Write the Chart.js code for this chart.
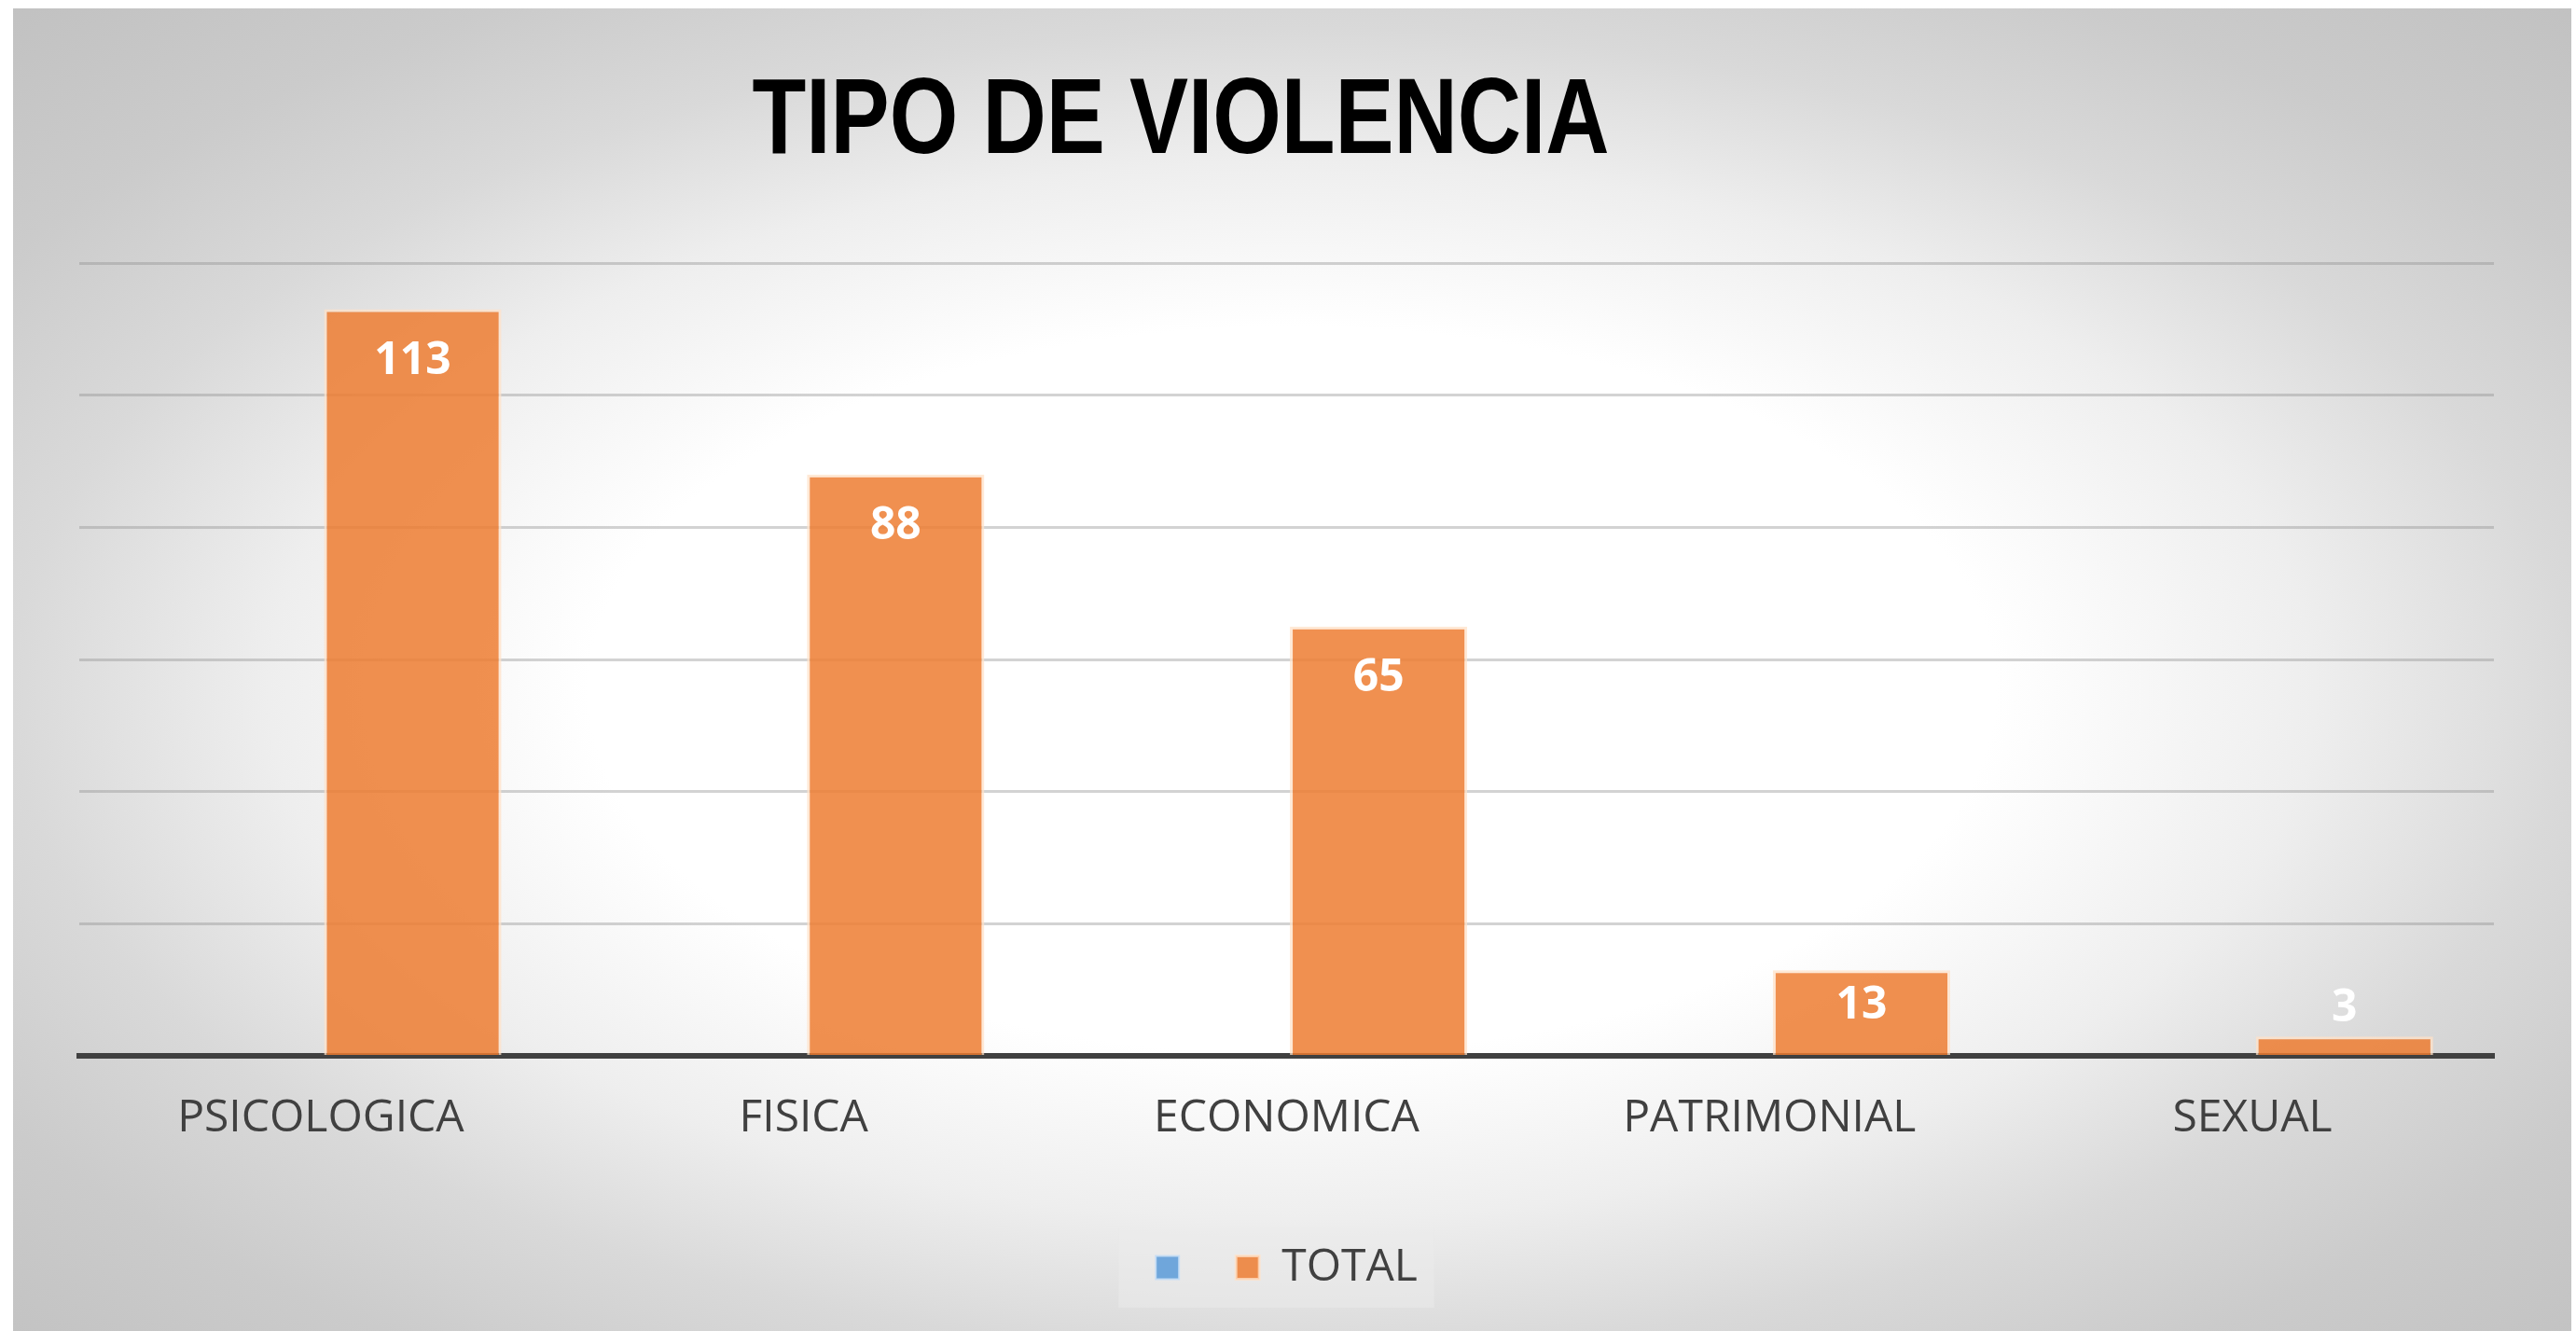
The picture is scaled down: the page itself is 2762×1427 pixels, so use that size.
<!DOCTYPE html>
<html>
<head>
<meta charset="utf-8">
<title>Tipo de violencia</title>
<script src="https://cdn.jsdelivr.net/npm/chart.js@4.4.1/dist/chart.umd.min.js"></script>
<style>
  html, body { margin: 0; padding: 0; background: #ffffff; }
  canvas { display: block; }
</style>
</head>
<body>
<canvas id="violenciaChart" width="2762" height="1427"></canvas>
<script>
// datos del grafico
const titleText = "TIPO DE VIOLENCIA";
const categories = ["PSICOLOGICA", "FISICA", "ECONOMICA", "PATRIMONIAL", "SEXUAL"];
const seriesNames = ["", "TOTAL"];
const emptySeries = [null, null, null, null, null];
const totalSeries = [113, 88, 65, 13, 3];
const yMax = 120;
const yStep = 20;

const textColor = "#404040";

// fondo degradado radial + caja clara de la leyenda
const backgroundPlugin = {
  id: "fondo",
  beforeDraw(chart) {
    const ctx = chart.ctx;
    const w = chart.width, h = chart.height;
    ctx.save();
    ctx.fillStyle = "#ffffff";
    ctx.fillRect(0, 0, w, h);
    const x0 = 14, y0 = 9, x1 = w - 5, y1 = h;
    const cx = (x0 + x1) / 2, cy = 740;
    const rx = (x1 - x0) / 2, ry = (y1 - y0) / 2;
    ctx.beginPath();
    ctx.rect(x0, y0, x1 - x0, y1 - y0);
    ctx.clip();
    ctx.translate(cx, cy);
    ctx.scale(1, ry / rx);
    const R = rx * 1.45;
    const g = ctx.createRadialGradient(0, 0, 0, 0, 0, R);
    g.addColorStop(0, "#ffffff");
    g.addColorStop(0.55 / 1.45, "#ffffff");
    g.addColorStop(0.8 / 1.45, "#eeeeee");
    g.addColorStop(1.0 / 1.45, "#d9d9d9");
    g.addColorStop(1.2 / 1.45, "#cbcbcb");
    g.addColorStop(1, "#c1c1c1");
    ctx.fillStyle = g;
    ctx.fillRect(-cx, -cy * rx / ry, w, h * rx / ry + 10);
    ctx.restore();

    const boxes = chart.legend && chart.legend.legendHitBoxes;
    if (boxes && boxes.length) {
      const left = Math.min(...boxes.map(b => b.left)) - 40;
      const right = Math.max(...boxes.map(b => b.left + b.width)) + 18;
      const mid = boxes[0].top + boxes[0].height / 2;
      ctx.save();
      ctx.fillStyle = "rgba(236,236,236,0.5)";
      ctx.fillRect(left, mid - 43, right - left, 86);
      ctx.restore();
    }
  }
};

// titulo (Arial Narrow negrita en el original; se estrecha si no hay fuente condensada)
const titlePlugin = {
  id: "titulo",
  afterDraw(chart) {
    const ctx = chart.ctx;
    ctx.save();
    ctx.font = "bold 115px 'Liberation Sans Narrow', 'Arial Narrow', 'Liberation Sans', sans-serif";
    ctx.fillStyle = "#000000";
    ctx.textAlign = "center";
    ctx.textBaseline = "alphabetic";
    const targetWidth = 919;
    const measured = ctx.measureText(titleText).width;
    const sx = measured > targetWidth * 1.03 ? targetWidth / measured : 1;
    ctx.translate(chart.width * 0.4584, 164);
    ctx.scale(sx, 1);
    ctx.fillText(titleText, 0, 0);
    ctx.restore();
  }
};

// etiquetas de datos en blanco
const dataLabelsPlugin = {
  id: "etiquetas",
  afterDatasetsDraw(chart) {
    const ctx = chart.ctx;
    const meta = chart.getDatasetMeta(1);
    ctx.save();
    ctx.font = "bold 48px 'Open Sans', sans-serif";
    ctx.fillStyle = "#ffffff";
    ctx.textAlign = "center";
    ctx.textBaseline = "middle";
    meta.data.forEach((bar, i) => {
      const v = totalSeries[i];
      if (v == null) return;
      const h = bar.base - bar.y;
      let y;
      if (h > 70) {
        y = bar.y + Math.min(56, h * 0.42);
      } else {
        y = bar.y - 30;
      }
      ctx.fillText(String(v), bar.x, y);
    });
    ctx.restore();
  }
};

const ctx = document.getElementById("violenciaChart").getContext("2d");

new Chart(ctx, {
  type: "bar",
  data: {
    labels: categories,
    datasets: [
      {
        label: seriesNames[0],
        data: emptySeries,
        backgroundColor: "#6fa6db",
        borderColor: "rgba(200,222,245,0.9)",
        borderWidth: 2,
        categoryPercentage: 0.762,
        barPercentage: 0.964
      },
      {
        label: seriesNames[1],
        data: totalSeries,
        backgroundColor: "rgba(237,125,49,0.85)",
        borderColor: "rgba(255,225,200,0.75)",
        borderWidth: 3,
        categoryPercentage: 0.762,
        barPercentage: 0.964
      }
    ]
  },
  options: {
    responsive: false,
    animation: false,
    devicePixelRatio: 1,
    layout: {
      padding: { top: 282, left: 85, right: 88, bottom: 34 }
    },
    scales: {
      x: {
        grid: { display: false, drawTicks: false },
        border: { display: true, color: "#404040", width: 6 },
        ticks: {
          color: textColor,
          font: { family: "'Open Sans', sans-serif", size: 48 },
          padding: 38,
          maxRotation: 0
        },
        afterFit(scale) { scale.height += 32; }
      },
      y: {
        min: 0,
        max: yMax,
        ticks: { display: false, stepSize: yStep },
        border: { display: false },
        grid: { color: "rgba(140,140,140,0.38)", lineWidth: 3, drawTicks: false },
        afterFit(scale) { scale.width = 0; }
      }
    },
    plugins: {
      title: { display: false },
      tooltip: { enabled: false },
      legend: {
        display: true,
        position: "bottom",
        labels: {
          color: textColor,
          font: { family: "'Open Sans', sans-serif", size: 48 },
          boxWidth: 25,
          boxHeight: 25,
          padding: 37
        }
      }
    }
  },
  plugins: [backgroundPlugin, titlePlugin, dataLabelsPlugin]
});
</script>
</body>
</html>
